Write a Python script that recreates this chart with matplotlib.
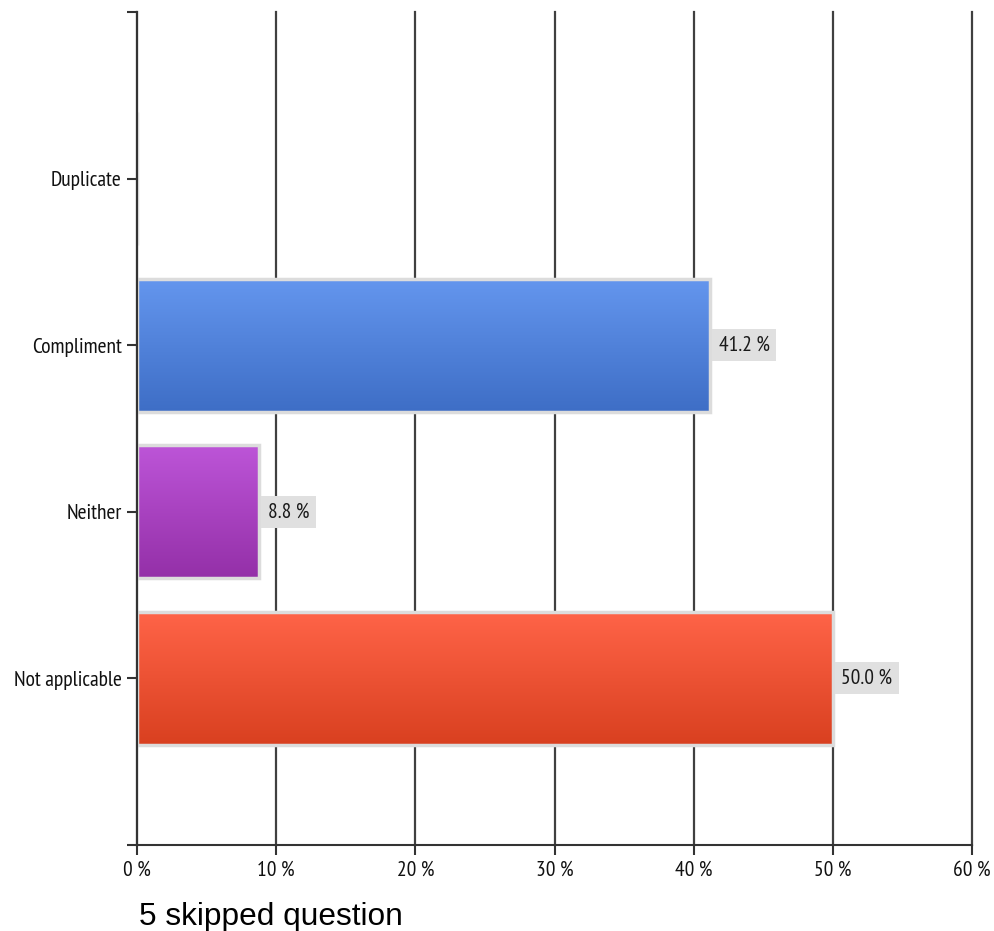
import numpy as np
import matplotlib
matplotlib.use("Agg")
import matplotlib.pyplot as plt
from matplotlib.patches import Rectangle
from matplotlib import font_manager
from matplotlib.colors import to_rgb

# data
categories = ["Duplicate", "Compliment", "Neither", "Not applicable"]
percents = [0.0, 41.2, 8.8, 50.0]
top_colors = ["#6496ee", "#6496ee", "#bd55d8", "#ff6448"]
bottom_colors = ["#3e6ec6", "#3e6ec6", "#9430a8", "#d94020"]
x_ticks = [0, 10, 20, 30, 40, 50, 60]
x_tick_labels = [f"{t} %" for t in x_ticks]
footnote = "5 skipped question"

# pick a narrow font (the original looks like Arial Narrow)
names = {f.name for f in font_manager.fontManager.ttflist}
narrow = "DejaVu Sans"
for cand in ["Liberation Sans Narrow", "Arial Narrow", "PT Sans Narrow", "Roboto Condensed", "Archivo Narrow"]:
    if cand in names:
        narrow = cand
        break
plt.rcParams['font.family'] = [narrow, 'DejaVu Sans']
fs = 15.5

fig = plt.figure(figsize=(9.94, 9.31), dpi=100)
ax = fig.add_axes([137 / 994, 1 - 845 / 931, (972 - 137) / 994, (845 - 12) / 931])

# gradient bars with light grey border
for i, (v, c0, c1) in enumerate(zip(percents, top_colors, bottom_colors)):
    y0, y1 = i - 0.4, i + 0.4
    if v > 0:
        grad = np.linspace(0, 1, 100)[:, None]
        a, b = np.array(to_rgb(c0)), np.array(to_rgb(c1))
        img = a[None, None, :] * (1 - grad[..., None]) + b[None, None, :] * grad[..., None]
        ax.imshow(img, extent=(0, v, y1, y0), aspect='auto', zorder=2, interpolation='bilinear')
    ax.add_patch(Rectangle((0, y0), v, 0.8, fill=False, edgecolor='#dcdcdc', lw=2.5, zorder=3))
    if v > 0:
        ax.annotate(f"{v:.1f} %", xy=(v, i), xytext=(6, 0), textcoords='offset points',
                    ha='left', va='center', fontsize=fs, color='#1a1a1a',
                    bbox=dict(facecolor='#e0e0e0', edgecolor='none', boxstyle='square,pad=0.3'),
                    zorder=4)

ax.set_xlim(0, 60)
ax.set_ylim(4, -1)
ax.set_xticks(x_ticks)
ax.set_xticklabels(x_tick_labels, fontsize=fs)
ax.set_yticks([-1, 0, 1, 2, 3, 4])
ax.set_yticklabels([""] + categories + [""], fontsize=fs)

ax.grid(True, axis='x', color='#404040', lw=1.6, zorder=1)
ax.set_axisbelow(True)
for gl in ax.get_xgridlines():
    gl.set_clip_on(False)
for s in ['top', 'right']:
    ax.spines[s].set_visible(False)
for s in ['left', 'bottom']:
    ax.spines[s].set_color('#333333')
    ax.spines[s].set_linewidth(1.5)
    ax.spines[s].set_zorder(5)
ax.tick_params(axis='both', length=7, width=1.5, color='#333333', pad=4, labelcolor='#111111')

fig.text(139 / 994, 1 - 925 / 931, footnote, fontsize=22.8, family='Liberation Sans',
         ha='left', va='baseline', color='black')

fig.savefig("out.png", dpi=100)
